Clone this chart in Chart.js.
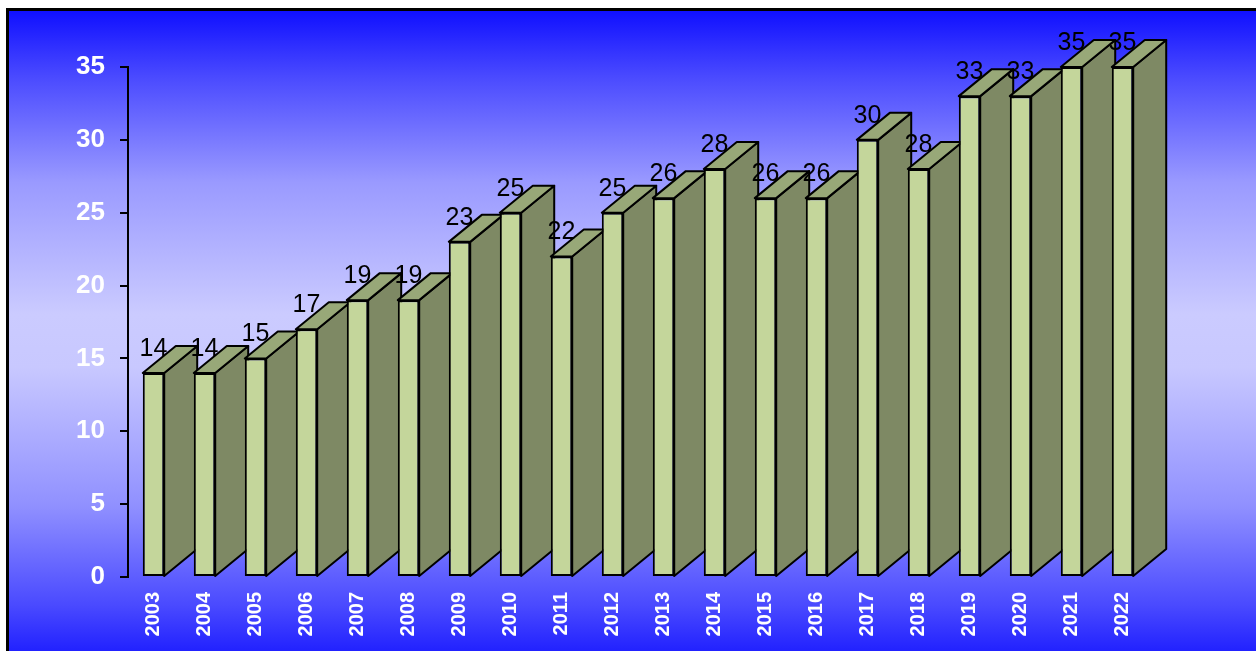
<!DOCTYPE html>
<html>
<head>
<meta charset="utf-8">
<script src="https://cdn.jsdelivr.net/npm/chart.js@4/dist/chart.umd.min.js"></script>
<style>
  body { margin: 0; background: #fff; }
  #frame {
    position: absolute; left: 6px; top: 8px; width: 1248px; height: 660px;
    border-left: 3px solid #000; border-top: 3px solid #000; border-right: 1px solid #3030a0;
    background: linear-gradient(to bottom, #1010ff 0%, #4a4aff 10%, #9a9aff 26%, #cbcbff 46%, #c8c8ff 54%, #9090ff 75%, #4a4aff 90%, #1010ff 100%);
  }
  #c { position: absolute; left: 0; top: 0; }
</style>
</head>
<body>
<div id="frame"></div>
<canvas id="c" width="1256" height="651"></canvas>
<script>
// anos e valores
let years = ['2003', '2004', '2005', '2006', '2007', '2008', '2009', '2010', '2011', '2012',
             '2013', '2014', '2015', '2016', '2017', '2018', '2019', '2020', '2021', '2022']
let values = [14, 14, 15, 17, 19, 19, 23, 25, 22, 25, 26, 28, 26, 26, 30, 28, 33, 33, 35, 35]
let yTicks = [0, 5, 10, 15, 20, 25, 30, 35]

let depthX = 33, depthY = -27

// lados e topo das barras (efeito 3D), desenhados antes das faces da frente
let bars3d = {
  id: 'bars3d',
  beforeDatasetsDraw(chart) {
    let ctx = chart.ctx
    let meta = chart.getDatasetMeta(0)
    ctx.save()
    ctx.lineWidth = 2
    ctx.strokeStyle = '#000'
    ctx.lineJoin = 'round'
    meta.data.forEach(bar => {
      let p = bar.getProps(['x', 'y', 'base', 'width'], true)
      let l = p.x - p.width / 2, r = p.x + p.width / 2
      // lado
      ctx.beginPath()
      ctx.moveTo(r, p.y)
      ctx.lineTo(r + depthX, p.y + depthY)
      ctx.lineTo(r + depthX, p.base + depthY)
      ctx.lineTo(r, p.base)
      ctx.closePath()
      ctx.fillStyle = '#7e8964'
      ctx.fill()
      ctx.stroke()
      // topo
      ctx.beginPath()
      ctx.moveTo(l, p.y)
      ctx.lineTo(l + depthX, p.y + depthY)
      ctx.lineTo(r + depthX, p.y + depthY)
      ctx.lineTo(r, p.y)
      ctx.closePath()
      ctx.fillStyle = '#98a878'
      ctx.fill()
      ctx.stroke()
    })
    ctx.restore()
  },
  afterDatasetsDraw(chart) {
    let ctx = chart.ctx
    let meta = chart.getDatasetMeta(0)
    ctx.save()
    ctx.font = '25px "Liberation Sans", Arial, sans-serif'
    ctx.fillStyle = '#000'
    ctx.textAlign = 'center'
    ctx.textBaseline = 'alphabetic'
    meta.data.forEach((bar, i) => {
      ctx.fillText(String(values[i]), bar.x, bar.y - 17)
    })
    ctx.restore()
  }
}

let chart = new Chart(document.getElementById('c').getContext('2d'), {
  type: 'bar',
  data: {
    labels: years,
    datasets: [{
      data: values,
      backgroundColor: '#c4d69b',
      borderColor: '#000',
      borderWidth: 2,
      borderSkipped: false,
      barPercentage: 0.42,
      categoryPercentage: 1
    }]
  },
  options: {
    responsive: false,
    animation: false,
    devicePixelRatio: 1,
    layout: { padding: { top: 67, right: 108, left: 0, bottom: 0 } },
    plugins: { legend: { display: false }, tooltip: { enabled: false } },
    scales: {
      x: {
        grid: { display: false, drawTicks: false },
        border: { display: false },
        ticks: {
          color: '#fff',
          font: { family: '"Liberation Sans", Arial, sans-serif', size: 20, weight: 'bold' },
          minRotation: 90, maxRotation: 90, padding: 15, autoSkip: false
        },
        afterFit(scale) { scale.height = 74 }
      },
      y: {
        min: 0, max: 35,
        afterBuildTicks(scale) { scale.ticks = yTicks.map(v => ({ value: v })) },
        grid: { drawOnChartArea: false, color: '#000', tickLength: 8, lineWidth: 2 },
        border: { display: true, color: '#000', width: 2 },
        ticks: {
          color: '#fff',
          font: { family: '"Liberation Sans", Arial, sans-serif', size: 26, weight: 'bold' },
          padding: 15
        },
        afterFit(scale) { scale.width = 128 }
      }
    }
  },
  plugins: [bars3d]
})
</script>
</body>
</html>
